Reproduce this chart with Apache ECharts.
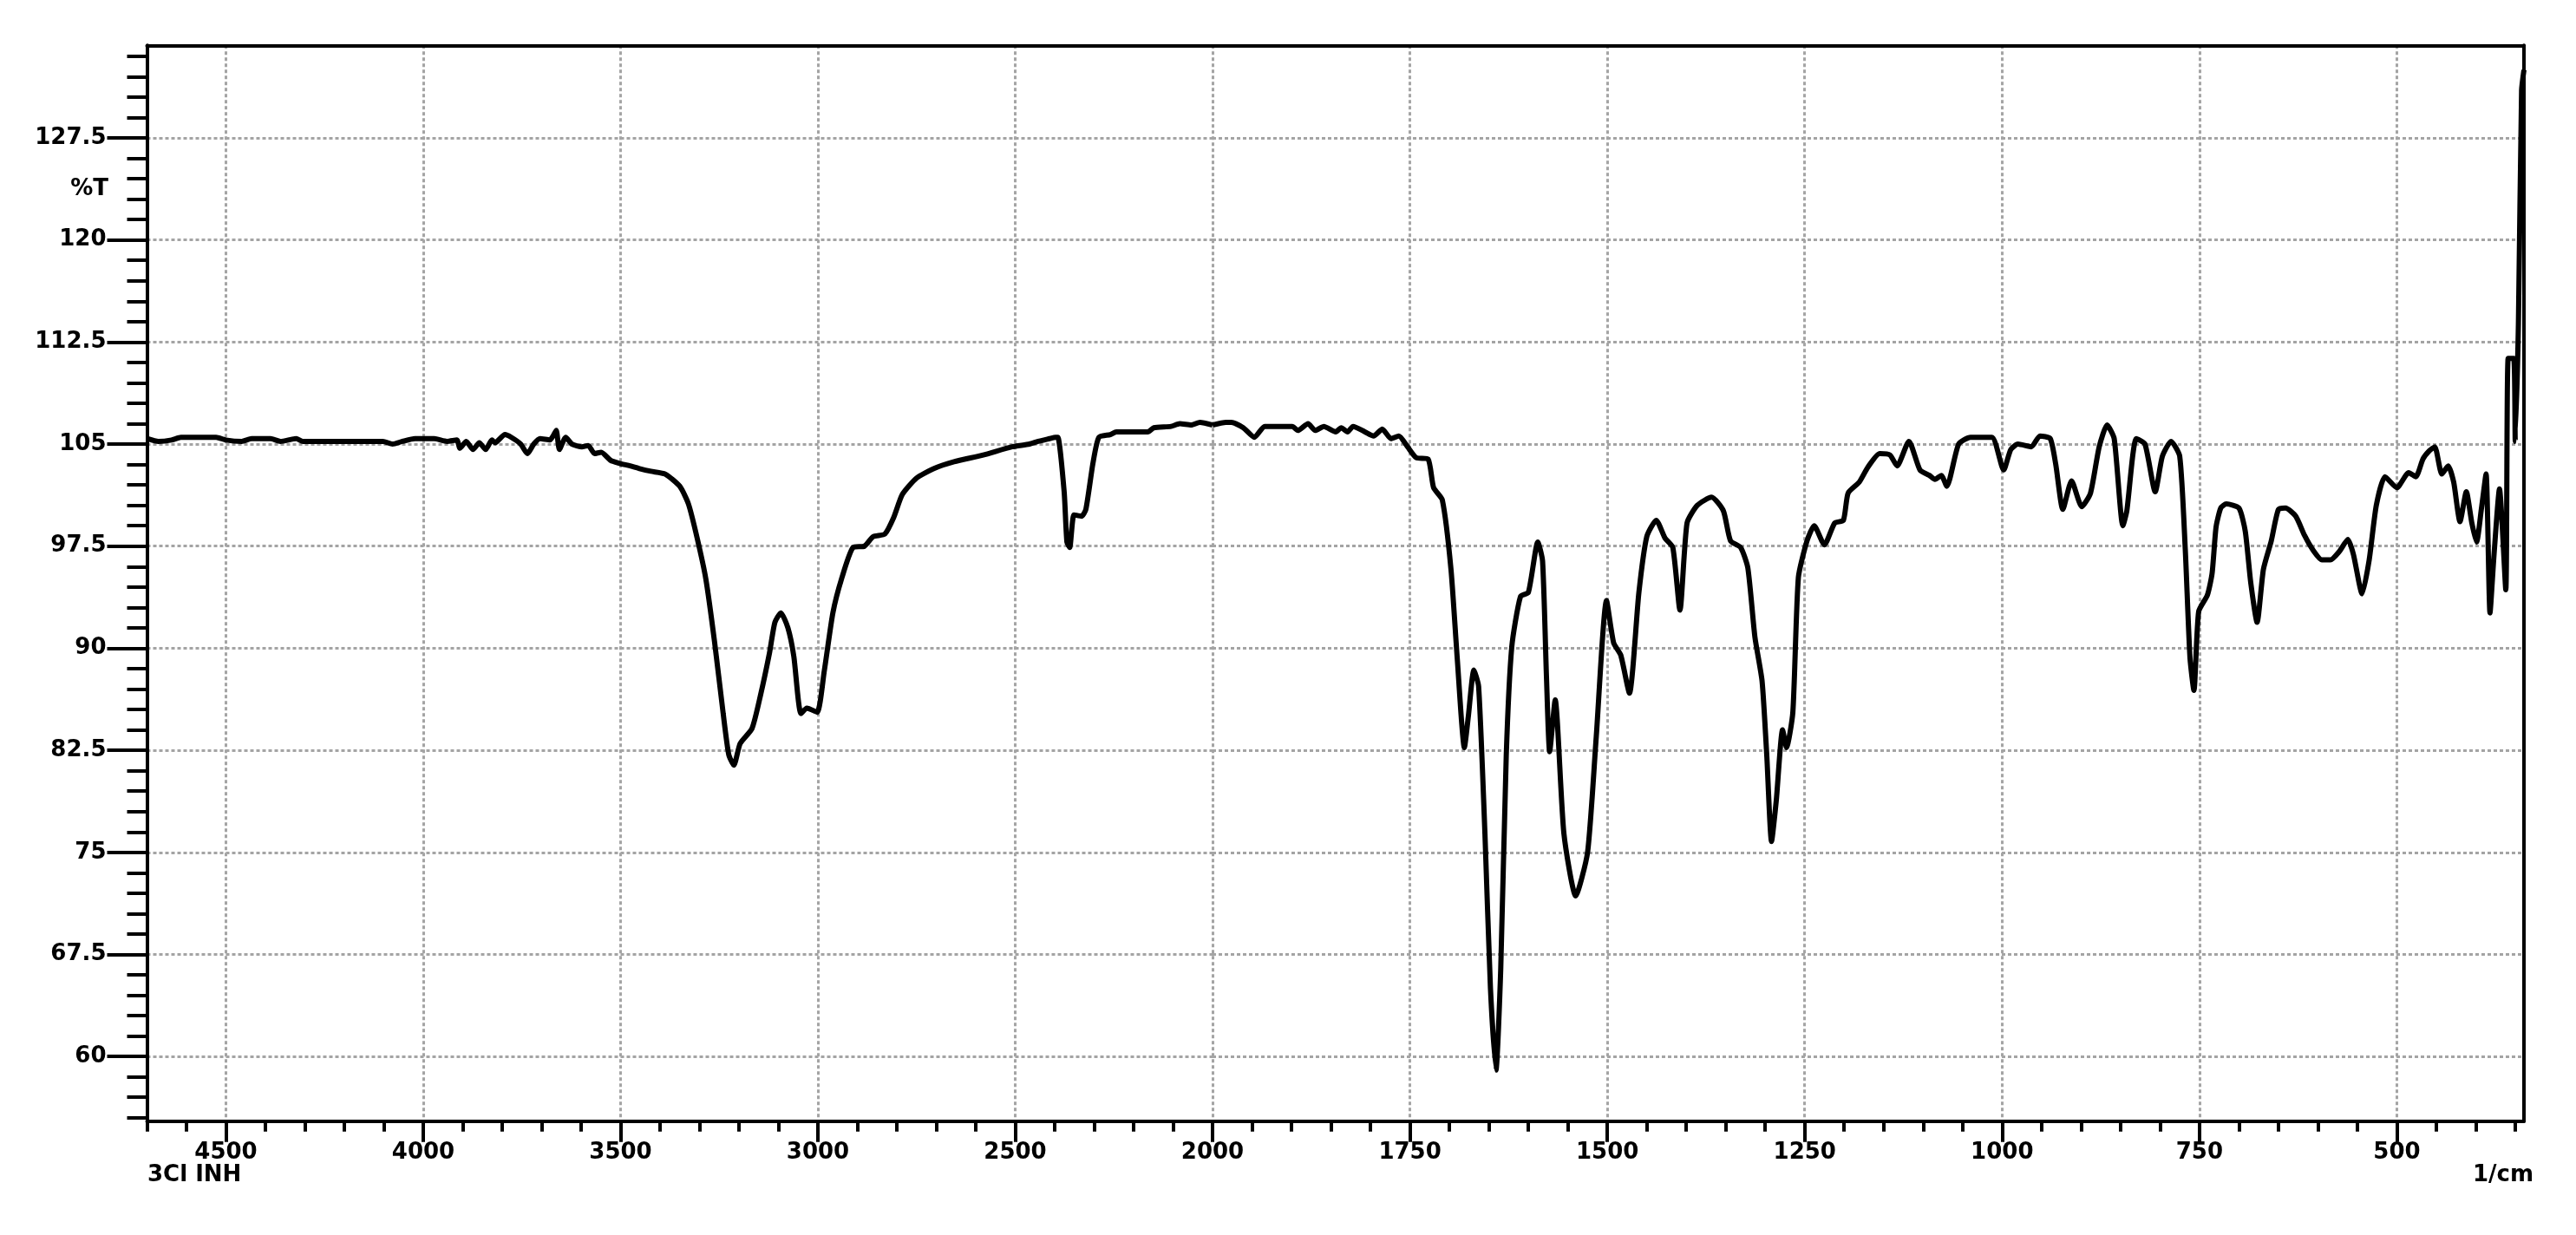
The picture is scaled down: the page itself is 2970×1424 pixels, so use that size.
<!DOCTYPE html>
<html>
<head>
<meta charset="utf-8">
<title>IR spectrum - 3Cl INH</title>
<script src="https://cdn.jsdelivr.net/npm/echarts@6.0.0/dist/echarts.min.js"></script>
<style>
  html, body { margin: 0; padding: 0; background: #fff; }
  #chart { width: 2970px; height: 1424px; }
</style>
</head>
<body>
<div id="chart"></div>
<script>
// wavenumber (1/cm) and %T.
// the instrument draws 4700-2000 at half the scale of 2000-340, so each part gets its own grid
const wnHigh = [
  4698, 4671, 4638, 4614, 4582, 4525, 4500, 4460, 4435, 4387,
  4362, 4322, 4305, 4200, 4102, 4078, 4053, 4021, 3972, 3940,
  3915, 3907, 3891, 3874, 3858, 3842, 3826, 3818, 3793, 3777,
  3753, 3736, 3720, 3704, 3679, 3671, 3663, 3655, 3639, 3623,
  3598, 3582, 3566, 3549, 3525, 3504, 3476, 3452, 3423, 3387,
  3350, 3328, 3306, 3284, 3262, 3240, 3226, 3213, 3197, 3167,
  3145, 3123, 3109, 3094, 3076, 3061, 3043, 3028, 3002, 2984,
  2962, 2940, 2911, 2882, 2860, 2830, 2808, 2786, 2750, 2706,
  2655, 2581, 2508, 2464, 2442, 2413, 2398, 2392, 2376, 2369,
  2362, 2351, 2332, 2321, 2303, 2288, 2259, 2244, 2164, 2149,
  2105, 2083, 2054, 2032, 2000
]
const tHigh = [
  105.4, 105.2, 105.3, 105.5, 105.5, 105.5, 105.3, 105.2, 105.4, 105.4,
  105.2, 105.4, 105.2, 105.2, 105.2, 105.0, 105.2, 105.4, 105.4, 105.2,
  105.3, 104.7, 105.2, 104.6, 105.1, 104.6, 105.3, 105.1, 105.7, 105.5,
  105.0, 104.3, 105.0, 105.4, 105.3, 105.6, 106.0, 104.6, 105.5, 105.0,
  104.8, 104.9, 104.3, 104.4, 103.8, 103.6, 103.4, 103.2, 103.0, 102.8,
  101.9, 100.6, 98.1, 95.1, 90.5, 85.2, 82.2, 81.4, 83.0, 84.1,
  86.6, 89.6, 91.9, 92.6, 91.5, 89.4, 85.2, 85.6, 85.3, 88.3,
  92.6, 95.1, 97.4, 97.5, 98.2, 98.4, 99.6, 101.3, 102.5, 103.2,
  103.7, 104.2, 104.8, 105.0, 105.2, 105.4, 105.5, 105.5, 101.5, 97.8,
  97.4, 99.8, 99.7, 100.2, 103.6, 105.5, 105.7, 105.9, 105.9, 106.2,
  106.3, 106.5, 106.4, 106.6, 106.4
]

const wnLow = [
  2000, 1983, 1976, 1961, 1947, 1934, 1917, 1899, 1892, 1879,
  1870, 1859, 1844, 1837, 1829, 1822, 1807, 1796, 1785, 1774,
  1764, 1753, 1742, 1727, 1720, 1709, 1698, 1690, 1681, 1676,
  1669, 1663, 1655, 1648, 1641, 1635, 1628, 1621, 1610, 1600,
  1588, 1582, 1577, 1573, 1566, 1555, 1540, 1525, 1514, 1501,
  1492, 1483, 1472, 1460, 1450, 1438, 1427, 1417, 1408, 1399,
  1386, 1368, 1353, 1344, 1331, 1322, 1313, 1304, 1298, 1292,
  1286, 1278, 1273, 1265, 1258, 1247, 1238, 1225, 1212, 1201,
  1195, 1181, 1170, 1155, 1142, 1133, 1118, 1104, 1092, 1085,
  1077, 1070, 1055, 1040, 1013, 998, 989, 980, 963, 952,
  939, 932, 923, 912, 899, 888, 877, 867, 858, 847,
  842, 830, 819, 806, 797, 786, 775, 768, 762, 757,
  751, 740, 734, 729, 723, 716, 700, 692, 685, 677,
  669, 659, 650, 641, 628, 617, 606, 595, 584, 573,
  562, 555, 544, 535, 526, 515, 500, 485, 476, 467,
  459, 452, 443, 435, 428, 420, 412, 405, 399, 393,
  387, 382, 377, 370, 362, 359, 352, 350, 346, 342,
  339
]
const tLow = [
  106.4, 106.6, 106.6, 106.2, 105.5, 106.3, 106.3, 106.3, 106.0, 106.5,
  106.0, 106.3, 105.9, 106.2, 105.9, 106.3, 105.9, 105.6, 106.1, 105.4,
  105.6, 104.8, 104.0, 103.9, 101.8, 100.9, 95.8, 89.2, 82.7, 85.0,
  88.4, 87.2, 76.4, 65.0, 59.0, 66.4, 82.1, 90.1, 93.8, 94.1,
  97.8, 96.4, 87.8, 82.4, 86.2, 76.4, 71.8, 75.0, 83.5, 93.5,
  90.4, 89.5, 86.7, 94.1, 98.2, 99.4, 98.1, 97.4, 92.8, 99.2,
  100.5, 101.1, 100.1, 97.9, 97.4, 95.9, 90.8, 87.6, 82.1, 75.8,
  78.8, 84.0, 82.7, 85.3, 95.2, 97.9, 99.0, 97.6, 99.2, 99.4,
  101.4, 102.2, 103.3, 104.3, 104.2, 103.4, 105.2, 103.1, 102.7, 102.4,
  102.7, 101.9, 105.0, 105.5, 105.5, 103.1, 104.6, 105.0, 104.8, 105.6,
  105.4, 103.5, 100.2, 102.3, 100.4, 101.4, 104.8, 106.4, 105.4, 99.0,
  100.1, 105.4, 105.0, 101.5, 104.1, 105.2, 104.1, 97.3, 89.3, 86.9,
  92.7, 93.9, 95.5, 98.9, 100.3, 100.6, 100.3, 98.6, 94.8, 91.9,
  95.8, 97.9, 100.2, 100.3, 99.7, 98.3, 97.2, 96.5, 96.5, 97.1,
  98.0, 96.9, 94.0, 96.5, 100.5, 102.6, 101.8, 102.9, 102.6, 103.9,
  104.5, 104.8, 102.8, 103.4, 102.2, 99.3, 101.5, 99.2, 97.8, 100.2,
  102.8, 92.6, 96.8, 101.7, 94.3, 111.3, 111.3, 105.2, 113.9, 131.0,
  132.5
]

// tick labels
const xTicksHigh = [2500, 3000, 3500, 4000, 4500]
const xTicksLow = [500, 750, 1000, 1250, 1500, 1750, 2000]
const yTicks = [60, 67.5, 75, 82.5, 90, 97.5, 105, 112.5, 120, 127.5]

// axis ranges
const X_MAX = 4700
const X_MID = 2000
const X_MIN = 339
const Y_MIN = 55.25
const Y_MAX = 134.3

// unlabelled minor ticks
const xMinorHigh = []
for (let v = 2100; v <= 4700; v += 100) if (v % 500 !== 0) xMinorHigh.push(v)
const xMinorLow = []
for (let v = 350; v < 2000; v += 50) if (v % 250 !== 0) xMinorLow.push(v)
const yMinor = []
for (let v = 55.5; v <= 133.5; v += 1.5) if ((v - 60) % 7.5 !== 0) yMinor.push(v)

const BLACK = '#000'
const FONT_SIZE = 26
const labelFont = { color: BLACK, fontFamily: 'DejaVu Sans', fontWeight: 'bold', fontSize: FONT_SIZE }
const textFont = `bold ${FONT_SIZE}px "DejaVu Sans"`
const gridLine = { show: true, lineStyle: { color: '#a4a4a4', width: 3, type: [4, 3] } }
const frame = { show: true, onZero: false, lineStyle: { color: BLACK, width: 4 } }
const noLine = { show: false }

const chart = echarts.init(document.getElementById('chart'), null, { renderer: 'canvas' })

// x axis builders
const xMajor = (gridIndex, min, max, ticks) => ({
  type: 'value', gridIndex, position: 'bottom', min, max, inverse: true,
  axisLine: frame,
  axisTick: { show: true, inside: false, length: 24, customValues: ticks, lineStyle: { color: BLACK, width: 4 } },
  axisLabel: { show: true, customValues: ticks, margin: 24, formatter: (v) => String(v), ...labelFont },
  splitLine: gridLine,
  minorTick: noLine, minorSplitLine: noLine,
})
const xMinor = (gridIndex, min, max, ticks) => ({
  type: 'value', gridIndex, position: 'bottom', min, max, inverse: true,
  axisLine: noLine,
  axisTick: { show: true, inside: false, length: 12, customValues: ticks, lineStyle: { color: BLACK, width: 4 } },
  axisLabel: { show: false }, splitLine: noLine,
})
const xTop = (gridIndex, min, max) => ({
  type: 'value', gridIndex, position: 'top', min, max, inverse: true,
  axisLine: frame, axisTick: noLine, axisLabel: { show: false }, splitLine: noLine,
})

const option = {
  backgroundColor: '#fff',
  animation: false,
  grid: [
    { left: 169.5, top: 52.3, width: 1228.5, height: 1240.4, containLabel: false, outerBoundsMode: 'none' },
    { left: 1398, top: 52.3, width: 1512, height: 1240.4, containLabel: false, outerBoundsMode: 'none' },
  ],
  xAxis: [
    xMajor(0, X_MID, X_MAX, xTicksHigh),
    xMajor(1, X_MIN, X_MID, xTicksLow),
    xMinor(0, X_MID, X_MAX, xMinorHigh),
    xMinor(1, X_MIN, X_MID, xMinorLow),
    xTop(0, X_MID, X_MAX),
    xTop(1, X_MIN, X_MID),
  ],
  yAxis: [
    {
      type: 'value', gridIndex: 0, position: 'left', min: Y_MIN, max: Y_MAX,
      axisLine: frame,
      axisTick: { show: true, inside: false, length: 46, customValues: yTicks, lineStyle: { color: BLACK, width: 4 } },
      axisLabel: { show: true, customValues: yTicks, margin: 47, ...labelFont },
      splitLine: gridLine,
    },
    {
      type: 'value', gridIndex: 0, position: 'left', min: Y_MIN, max: Y_MAX,
      axisLine: noLine,
      axisTick: { show: true, inside: false, length: 23, customValues: yMinor, lineStyle: { color: BLACK, width: 4 } },
      axisLabel: { show: false }, splitLine: noLine,
    },
    {
      type: 'value', gridIndex: 1, position: 'right', min: Y_MIN, max: Y_MAX,
      axisLine: frame,
      axisTick: { show: false, customValues: yTicks },
      axisLabel: { show: false, customValues: yTicks },
      splitLine: gridLine,
    },
  ],
  graphic: [
    { type: 'text', x: 125, y: 205, style: { text: '%T', align: 'right', verticalAlign: 'top', fill: BLACK, font: textFont } },
    { type: 'text', x: 170, y: 1342, style: { text: '3Cl INH', align: 'left', verticalAlign: 'top', fill: BLACK, font: textFont } },
    { type: 'text', x: 2921, y: 1342, style: { text: '1/cm', align: 'right', verticalAlign: 'top', fill: BLACK, font: textFont } },
  ],
  series: [
    {
      name: 'high', type: 'line', xAxisIndex: 0, yAxisIndex: 0,
      data: wnHigh.map((w, i) => [w, tHigh[i]]),
      showSymbol: false, smooth: 0.2, silent: true, clip: true,
      lineStyle: { color: BLACK, width: 6 },
    },
    {
      name: 'low', type: 'line', xAxisIndex: 1, yAxisIndex: 2,
      data: wnLow.map((w, i) => [w, tLow[i]]),
      showSymbol: false, smooth: 0.2, silent: true, clip: true,
      lineStyle: { color: BLACK, width: 6 },
    },
  ],
}

chart.setOption(option)
</script>
</body>
</html>
